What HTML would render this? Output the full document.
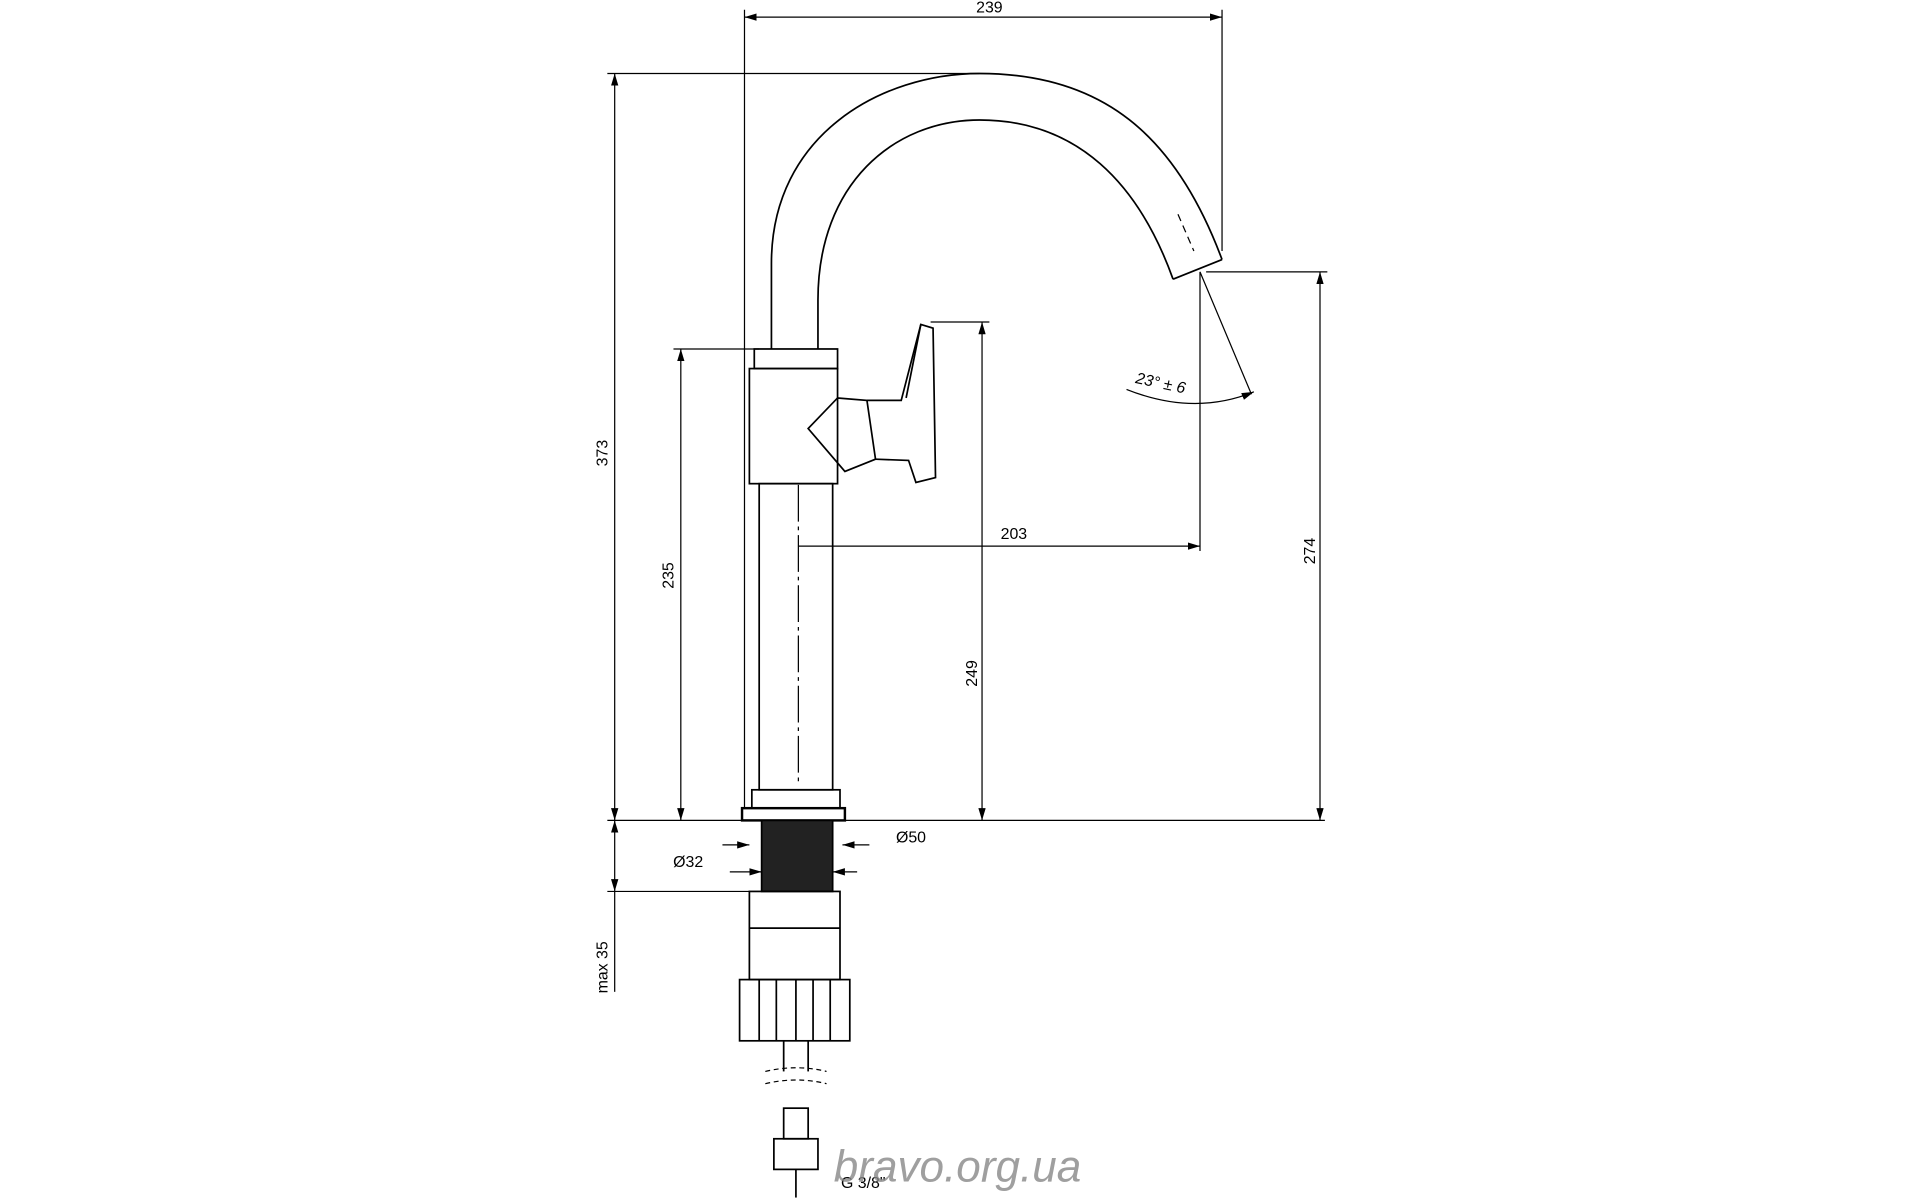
<!DOCTYPE html>
<html><head><meta charset="utf-8"><style>html,body{margin:0;padding:0;background:#fff}svg{display:block}</style></head>
<body>
<svg width="1920" height="1200" viewBox="0 0 1568 980" xmlns="http://www.w3.org/2000/svg" font-family="Liberation Sans, sans-serif" font-size="13">
<defs><marker id="a" viewBox="0 0 10 6" refX="10" refY="3" markerWidth="10" markerHeight="6" orient="auto-start-reverse"><path d="M0,0L10,3L0,6z" fill="#000"/></marker></defs>
<g stroke="#000" stroke-width="1" fill="none">
<line x1="608" y1="8" x2="608" y2="660"/>
<line x1="998" y1="8" x2="998" y2="205"/>
<line x1="496" y1="60" x2="800" y2="60"/>
<line x1="496" y1="670" x2="1082" y2="670"/>
<line x1="550" y1="285" x2="620" y2="285"/>
<line x1="760" y1="263" x2="808" y2="263"/>
<line x1="985" y1="222" x2="1084" y2="222"/>
<line x1="980" y1="222" x2="980" y2="450"/>
<line x1="496" y1="728" x2="612" y2="728"/>
<line x1="608" y1="14" x2="998" y2="14" marker-start="url(#a)" marker-end="url(#a)"/>
<line x1="502" y1="60" x2="502" y2="670" marker-start="url(#a)" marker-end="url(#a)"/>
<line x1="556" y1="285" x2="556" y2="670" marker-start="url(#a)" marker-end="url(#a)"/>
<line x1="802" y1="263" x2="802" y2="670" marker-start="url(#a)" marker-end="url(#a)"/>
<line x1="1078" y1="222" x2="1078" y2="670" marker-start="url(#a)" marker-end="url(#a)"/>
<line x1="652" y1="446" x2="980" y2="446" marker-end="url(#a)"/>
<line x1="502" y1="670" x2="502" y2="728" marker-start="url(#a)" marker-end="url(#a)"/>
<line x1="502" y1="728" x2="502" y2="810"/>
<line x1="590" y1="690" x2="612" y2="690" marker-end="url(#a)"/>
<line x1="710" y1="690" x2="688" y2="690" marker-end="url(#a)"/>
<line x1="596" y1="712" x2="622" y2="712" marker-end="url(#a)"/>
<line x1="700" y1="712" x2="680" y2="712" marker-end="url(#a)"/>
<line x1="652" y1="396" x2="652" y2="640" stroke-dasharray="30,4,3,4"/>
<line x1="980" y1="222" x2="1022" y2="322"/>
<path d="M920,318 Q975,340 1024,320" marker-end="url(#a)"/>
</g>
<g stroke="#000" stroke-width="1.4" fill="none">
<path d="M630,285 L630,215 C630,110 720,60 800,60 C900,60 960,110 998,212"/>
<path d="M668,285 L668,245 C668,150 730,98 800,98 C880,98 930,150 958,228"/>
<path d="M958,228 L998,212"/>
<line x1="962" y1="175" x2="975" y2="205" stroke-dasharray="6,4" stroke-width="1"/>
<rect x="616" y="285" width="68" height="16"/>
<rect x="612" y="301" width="72" height="94"/>
<rect x="620" y="395" width="60" height="250"/>
<rect x="614" y="645" width="72" height="15"/>
<rect x="606" y="660" width="84" height="10" stroke-width="2"/>
<path d="M684,325 L708,327 L715,375 L690,385 L660,350 Z"/>
<path d="M708,327 L736,327 L752,265 L762,268 L764,390 L748,394 L742,376 L715,375"/>
<path d="M740,325 L752,265"/>
<rect x="622" y="670" width="58" height="58" fill="#222"/>
<rect x="612" y="728" width="74" height="72"/>
<line x1="612" y1="758" x2="686" y2="758"/>
<rect x="604" y="800" width="90" height="50"/>
<path d="M620,800v50M634,800v50M650,800v50M664,800v50M678,800v50"/>
<line x1="640" y1="850" x2="640" y2="875"/><line x1="660" y1="850" x2="660" y2="875"/>
<path d="M625,875 q25,-6 50,0 M625,885 q25,-6 50,0" stroke-dasharray="4,3" stroke-width="1"/>
<rect x="640" y="905" width="20" height="25"/>
<rect x="632" y="930" width="36" height="25"/>
<line x1="650" y1="955" x2="650" y2="978"/>
</g>
<g fill="#000" text-anchor="middle">
<text x="808" y="10">239</text>
<text x="828" y="440">203</text>
<text transform="translate(496,370) rotate(-90)">373</text>
<text transform="translate(550,470) rotate(-90)">235</text>
<text transform="translate(798,550) rotate(-90)">249</text>
<text transform="translate(1074,450) rotate(-90)">274</text>
<text transform="translate(496,790) rotate(-90)">max 35</text>
<text x="744" y="688">Ø50</text>
<text x="562" y="708">Ø32</text>
<text transform="translate(947,317) rotate(12)" font-style="italic">23° ± 6</text>
<text x="705" y="970">G 3/8"</text>
</g>
<text x="782" y="965" text-anchor="middle" font-size="36" font-style="italic" fill="#888" opacity="0.8">bravo.org.ua</text>
</svg>
</body></html>
